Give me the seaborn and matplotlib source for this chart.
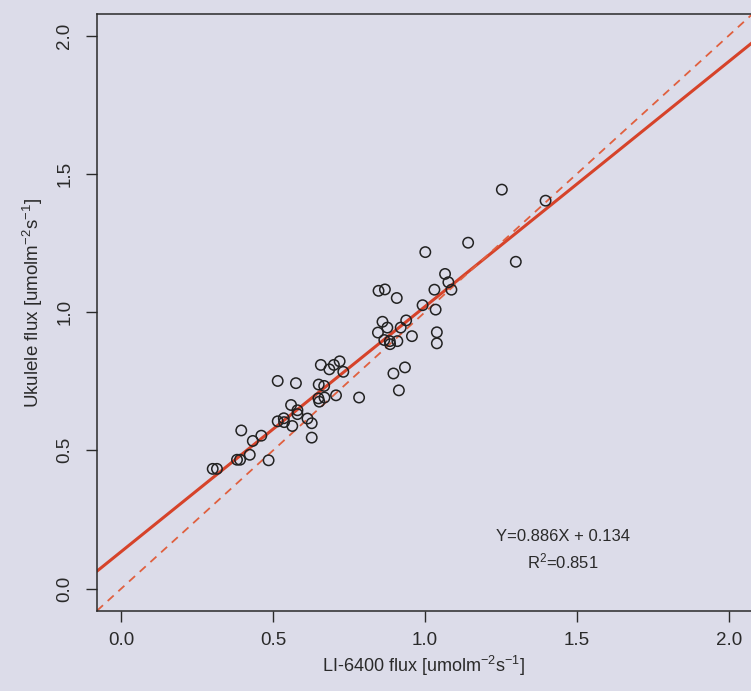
import numpy as np
import pandas as pd
import matplotlib
matplotlib.use("Agg")
import matplotlib.pyplot as plt
import seaborn as sns

# ---- data ----
li6400 = [0.301, 0.315, 0.395, 0.381, 0.391, 0.423, 0.433, 0.461, 0.485, 0.515,
          0.575, 0.515, 0.535, 0.536, 0.559, 0.563, 0.580, 0.580, 0.613, 0.627,
          0.627, 0.657, 0.685, 0.700, 0.719, 0.731, 0.650, 0.668, 0.649, 0.652,
          0.669, 0.707, 0.783, 0.866, 0.884, 0.885, 0.909, 0.896, 0.914, 0.934,
          0.847, 0.868, 0.907, 0.992, 1.035, 0.860, 0.938, 0.876, 0.920, 0.845,
          0.957, 1.039, 1.039, 1.001, 1.031, 1.066, 1.077, 1.087, 1.142, 1.299,
          1.253, 1.397]
ukulele = [0.433, 0.433, 0.572, 0.466, 0.466, 0.484, 0.534, 0.553, 0.464, 0.751,
           0.743, 0.605, 0.616, 0.602, 0.664, 0.588, 0.645, 0.631, 0.615, 0.598,
           0.546, 0.809, 0.793, 0.809, 0.822, 0.784, 0.738, 0.733, 0.688, 0.676,
           0.691, 0.699, 0.691, 0.899, 0.895, 0.884, 0.895, 0.778, 0.717, 0.800,
           1.077, 1.082, 1.051, 1.025, 1.009, 0.965, 0.970, 0.944, 0.944, 0.926,
           0.913, 0.927, 0.887, 1.217, 1.081, 1.138, 1.108, 1.081, 1.251, 1.182,
           1.443, 1.403]
fit_slope = 0.886
fit_intercept = 0.134
r_squared = 0.851
tick_values = [0.0, 0.5, 1.0, 1.5, 2.0]
tick_labels = ["0.0", "0.5", "1.0", "1.5", "2.0"]

df = pd.DataFrame({"LI-6400": li6400, "Ukulele": ukulele})

sns.set_style("ticks")
plt.rcParams["font.family"] = ["Liberation Sans", "DejaVu Sans"]
plt.rcParams["mathtext.fontset"] = "custom"
plt.rcParams["mathtext.rm"] = "Liberation Sans"
plt.rcParams["mathtext.it"] = "Liberation Sans"
plt.rcParams["mathtext.default"] = "regular"

bg = "#dcdce9"
ink = "#2a2a2a"
red = "#d6432a"

fig = plt.figure(figsize=(7.51, 6.91), dpi=100, facecolor=bg)
ax = fig.add_axes([97 / 751, (691 - 610.7) / 691, (753 - 97) / 751, (610.7 - 13.5) / 691])
ax.set_facecolor(bg)

sns.scatterplot(data=df, x="LI-6400", y="Ukulele", ax=ax, marker="o",
                s=56, facecolors="none", edgecolor="#222222", linewidth=1.1,
                zorder=3, legend=False)

ax.axline((0, fit_intercept), slope=fit_slope, color=red, lw=2.2, zorder=2)
ax.axline((0, 0), slope=1, color="#e0603f", lw=1.3, dashes=(4.5, 3.5), zorder=2)

ax.set_xlim(-0.08, 2.08)
ax.set_ylim(-0.08, 2.08)
ax.set_xticks(tick_values)
ax.set_xticklabels(tick_labels)
ax.set_yticks(tick_values)
ax.set_yticklabels(tick_labels, rotation=90, va="center")

ax.tick_params(axis="both", direction="out", length=8, width=1.0,
               colors=ink, labelsize=13.5, labelcolor=ink)
ax.tick_params(axis="x", pad=7)
ax.tick_params(axis="y", pad=9)

for side in ["left", "bottom", "top", "right"]:
    ax.spines[side].set_color(ink)
    ax.spines[side].set_linewidth(1.1)

ax.set_xlabel(r"LI-6400 flux [umolm$^{-2}$s$^{-1}$]", fontsize=13, color=ink)
ax.set_ylabel(r"Ukulele flux [umolm$^{-2}$s$^{-1}$]", fontsize=13.5, color=ink)
ax.xaxis.set_label_coords((423 - 97) / 656, -(666 - 610.7) / 597.2)
ax.yaxis.set_label_coords(-(97 - 33) / 656, (610.7 - 303) / 597.2)
ax.xaxis.label.set_va("center")
ax.yaxis.label.set_va("center")

ax.text(1.454, 0.188, f"Y={fit_slope:.3f}X + {fit_intercept:.3f}", ha="center", va="center",
        fontsize=12, color=ink)
ax.text(1.454, 0.097, f"R$^{{2}}$={r_squared:.3f}", ha="center", va="center",
        fontsize=12, color=ink)

fig.savefig("out.png", dpi=100, facecolor=bg)
